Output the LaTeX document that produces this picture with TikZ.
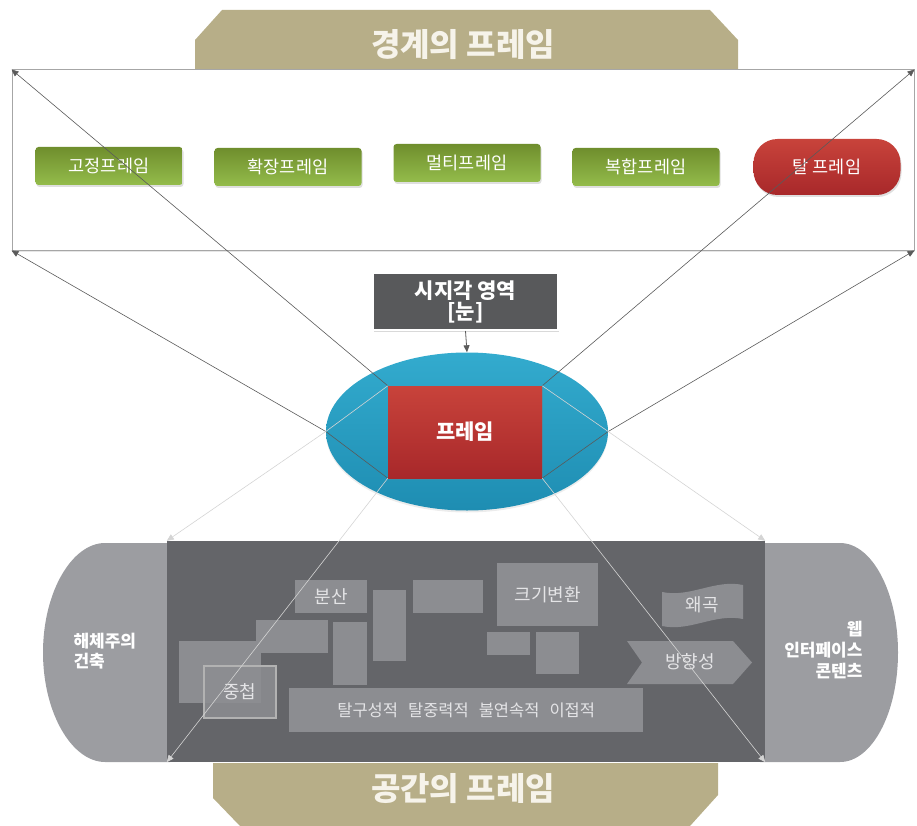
\documentclass[tikz,border=0pt]{standalone}
\usepackage{fontspec}
\newfontfamily\kr{Noto Sans CJK KR}
\usetikzlibrary{arrows.meta,shapes.geometric,shadows}
\definecolor{tanc}{HTML}{B7AE88}
\definecolor{tantext}{HTML}{F6F3EA}
\definecolor{gbtop}{HTML}{6F8E2D}
\definecolor{gbbot}{HTML}{94BC4B}
\definecolor{rbtop}{HTML}{C8433B}
\definecolor{rbbot}{HTML}{A8282A}
\definecolor{eltop}{HTML}{33ABCE}
\definecolor{elbot}{HTML}{1E8DB2}
\definecolor{boxdark}{HTML}{58595B}
\definecolor{capgray}{HTML}{9C9DA1}
\definecolor{spacegray}{HTML}{646569}
\definecolor{innergray}{HTML}{8C8D91}
\definecolor{innertext}{HTML}{E4E4E6}
\definecolor{darkline}{HTML}{5A5A5A}
\definecolor{lightline}{HTML}{D4D4D4}
\begin{document}
\begin{tikzpicture}[x=1pt,y=-1pt,
  lbl/.style={font=\kr\fontsize{17.5}{20}\selectfont, text=white},
  ilbl/.style={font=\kr\fontsize{18}{21}\selectfont, text=innertext},
  titletxt/.style={font=\kr\bfseries\fontsize{32}{36}\selectfont, text=tantext},
  greenbtn/.style={rectangle, rounded corners=3pt, minimum width=147pt, minimum height=38pt,
    inner sep=0pt, top color=gbtop, bottom color=gbbot, lbl,
    drop shadow={opacity=0.25,shadow xshift=1pt,shadow yshift=-2pt}},
  redbtn/.style={rectangle, rounded corners=24pt, minimum width=147pt, minimum height=56pt,
    inner sep=0pt, top color=rbtop, bottom color=rbbot, lbl,
    drop shadow={opacity=0.25,shadow xshift=1pt,shadow yshift=-2pt}},
  inr/.style={rectangle, fill=innergray, inner sep=0pt, anchor=north west, ilbl},
  dline/.style={draw=darkline, line width=0.6pt, -{Triangle[length=7pt,width=6pt,fill=darkline]}},
  lline/.style={draw=lightline, line width=0.6pt, -{Triangle[length=7pt,width=6pt,fill=lightline]}},
]
\useasboundingbox (0,0) rectangle (917,826);

% top title
\fill[tanc] (195,70) -- (195,40) -- (222,10) -- (710,10) -- (738,40) -- (738,70) -- cycle;
\node[titletxt] (ttop) at (463,45) {경계의 프레임};

% boundary box
\node[rectangle, draw=gray!70, line width=1pt, fill=white, minimum width=902pt, minimum height=180pt,
  drop shadow={opacity=0.2,shadow xshift=1pt,shadow yshift=-2pt}] (bound) at (463,160) {};

% buttons
\node[greenbtn] (b1) at (109,166) {고정프레임};
\node[greenbtn] (b2) at (288,167) {확장프레임};
\node[greenbtn] (b3) at (467,163) {멀티프레임};
\node[greenbtn] (b4) at (646,167) {복합프레임};
\node[redbtn] (b5) at (827,167) {탈 프레임};

% eye box
\node[rectangle, fill=boxdark, draw=white, line width=2pt, minimum width=185pt, minimum height=57pt,
  inner sep=0pt, align=center, font=\kr\bfseries\fontsize{21}{22}\selectfont, text=white,
  drop shadow={opacity=0.3,shadow xshift=1pt,shadow yshift=-2pt}] (eye) at (465.5,301.5) {시지각 영역\\[-1pt][눈]};

% ellipse
\node[ellipse, minimum width=282pt, minimum height=158pt, inner sep=0pt, top color=eltop, bottom color=elbot,
  drop shadow={opacity=0.15,shadow xshift=0pt,shadow yshift=-2pt}] (ell) at (467,431.5) {};
\draw[draw=darkline, line width=0.8pt, -{Triangle[length=7pt,width=6pt]}] (eye.south) -- (ell.north);

% bottom title
\fill[tanc] (213,763) -- (718,763) -- (718,795) -- (690,826) -- (240,826) -- (213,798) -- cycle;
\node[titletxt] (tbot) at (463,789) {공간의 프레임};

% caps
\fill[capgray] (170,543) -- (105,543) .. controls (72,543) and (43,592) .. (43,652.5)
  .. controls (43,713) and (72,762) .. (105,762) -- (170,762) -- cycle;
\fill[capgray] (760,543) -- (840,543) .. controls (872,543) and (898,592) .. (898,652.5)
  .. controls (898,713) and (872,762) .. (840,762) -- (760,762) -- cycle;
\node[font=\kr\bfseries\fontsize{17}{20}\selectfont, text=white, align=left, anchor=west] (lcap) at (70,651) {해체주의\\건축};
\node[font=\kr\bfseries\fontsize{17}{21}\selectfont, text=white, align=right, anchor=east] (rcap) at (866,650) {웹\\인터페이스\\콘텐츠};

% space box
\node[rectangle, fill=spacegray, minimum width=598pt, minimum height=221pt, inner sep=0pt] (space) at (466,651.5) {};

% inner pieces
\node[inr, minimum width=72pt, minimum height=33pt] (p1) at (295,580) {분산};
\node[inr, minimum width=33pt, minimum height=71pt] (p2) at (373,590) {};
\node[inr, minimum width=70pt, minimum height=33pt] (p3) at (413,580) {};
\node[inr, minimum width=72pt, minimum height=33pt] (p4) at (256,620) {};
\node[inr, minimum width=34pt, minimum height=63pt] (p5) at (333,622) {};
\node[inr, minimum width=82pt, minimum height=62pt] (p6) at (179,641) {};
\node[rectangle, fill=innergray, draw=gray!60, line width=1.5pt, fill opacity=0.85, text opacity=1,
  minimum width=72pt, minimum height=52pt, anchor=north west, inner sep=0pt, ilbl] (p7) at (203,665) {중첩};
\node[inr, minimum width=354pt, minimum height=44pt, font=\kr\fontsize{16.5}{19}\selectfont] (p8) at (289,688)
  {탈구성적\hspace{10pt}탈중력적\hspace{10pt}불연속적\hspace{10pt}이접적};
\node[inr, minimum width=101pt, minimum height=63pt] (p9) at (497,563) {크기변환};
\node[inr, minimum width=43pt, minimum height=23pt] (p10) at (487,632) {};
\node[inr, minimum width=43pt, minimum height=42pt] (p11) at (536,632) {};
\fill[innergray] (662,592) .. controls (690,598) and (715,579) .. (743,585) -- (743,619)
  .. controls (715,613) and (690,632) .. (662,626) -- cycle;
\node[ilbl] (p12) at (702,605) {왜곡};
\fill[innergray] (627,641) -- (733,641) -- (752,662.5) -- (733,684) -- (627,684) -- (642,662.5) -- cycle;
\node[ilbl] (p13) at (690,662) {방향성};

% frame
\node[rectangle, minimum width=154pt, minimum height=92pt, inner sep=0pt, top color=rbtop, bottom color=rbbot,
  font=\kr\bfseries\fontsize{21}{24}\selectfont, text=white,
  drop shadow={opacity=0.25,shadow xshift=1pt,shadow yshift=-2pt}] (frame) at (465,432) {프레임};

% connectors
\draw[dline] (frame.north west) -- (bound.north west);
\draw[dline] (frame.north east) -- (bound.north east);
\draw[dline] (frame.south west) -- (ell.west) -- (bound.south west);
\draw[dline] (frame.south east) -- (ell.east) -- (bound.south east);
\draw[lline] (frame.north west) -- (ell.west) -- (space.north west);
\draw[lline] (frame.north east) -- (ell.east) -- (space.north east);
\draw[lline] (frame.south west) -- (space.south west);
\draw[lline] (frame.south east) -- (space.south east);
\end{tikzpicture}
\end{document}
